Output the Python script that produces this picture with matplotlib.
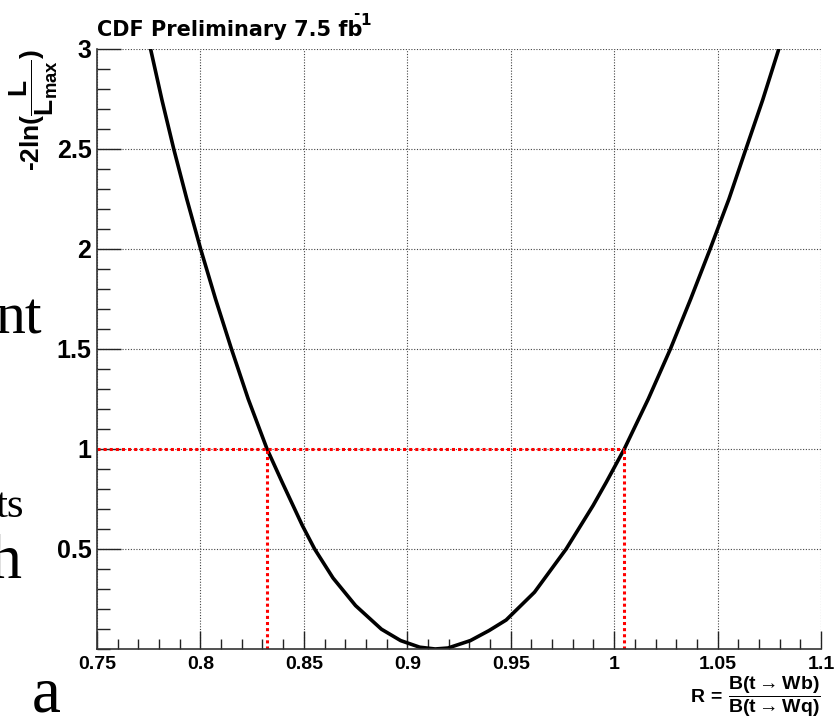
import numpy as np
import matplotlib
matplotlib.use("Agg")
import matplotlib.pyplot as plt

plt.rcParams['mathtext.fontset'] = 'custom'
plt.rcParams['mathtext.rm'] = 'Liberation Sans:bold'
plt.rcParams['mathtext.bf'] = 'Liberation Sans:bold'
plt.rcParams['mathtext.it'] = 'Liberation Sans:bold'

# likelihood scan
R_scan = [0.7759, 0.7814, 0.7871, 0.7934, 0.8001, 0.8073, 0.8150, 0.8231, 0.8322,
          0.8395, 0.8493, 0.8552, 0.8641, 0.8750, 0.8875, 0.8968, 0.9060, 0.9135,
          0.9197, 0.9305, 0.9395, 0.9478, 0.9615, 0.9768, 0.9898, 0.9962, 1.0049,
          1.0165, 1.0272, 1.0370, 1.0464, 1.0555, 1.0637, 1.0718, 1.0796]
nll_scan = [3.0, 2.745, 2.5, 2.25, 2.0, 1.75, 1.5, 1.25, 1.0,
            0.834, 0.617, 0.5, 0.355, 0.217, 0.099, 0.042, 0.009, 0.0,
            0.005, 0.042, 0.092, 0.145, 0.284, 0.5, 0.717, 0.834, 1.0,
            1.25, 1.5, 1.75, 2.0, 2.25, 2.5, 2.745, 3.0]

# one sigma interval
R_low = 0.8322
R_high = 1.0049
nll_level = 1.0

x_ticks = [0.75, 0.8, 0.85, 0.9, 0.95, 1.0, 1.05, 1.1]
x_ticklabels = ['0.75', '0.8', '0.85', '0.9', '0.95', '1', '1.05', '1.1']
y_ticks = [0.5, 1.0, 1.5, 2.0, 2.5, 3.0]
y_ticklabels = ['0.5', '1', '1.5', '2', '2.5', '3']

W, H = 837, 719
fig = plt.figure(figsize=(W / 100, H / 100), dpi=100)
ax = fig.add_axes([97 / W, (H - 649) / H, (821 - 97) / W, 600 / H])

ax.set_xlim(0.75, 1.1)
ax.set_ylim(0, 3)

ax.grid(True, which='major', linestyle=(0, (1, 1.5)), color='#444444', linewidth=0.8)
ax.set_axisbelow(True)

ax.plot(R_scan, nll_scan, color='black', linewidth=2.6, solid_joinstyle='round',
        solid_capstyle='round', zorder=3)

red = dict(color='#ff0000', linewidth=2.2, linestyle=(0, (1.0, 1.0)), zorder=4)
ax.plot([0.75, R_high], [nll_level, nll_level], **red)
ax.plot([R_low, R_low], [0, nll_level], **red)
ax.plot([R_high, R_high], [0, nll_level], **red)

for s in ['top', 'right']:
    ax.spines[s].set_visible(False)
for s in ['left', 'bottom']:
    ax.spines[s].set_linewidth(1.2)
    ax.spines[s].set_color('#333333')
    ax.spines[s].set_zorder(5)

ax.set_xticks(x_ticks)
ax.set_xticklabels(x_ticklabels)
ax.set_yticks(y_ticks)
ax.set_yticklabels(y_ticklabels)
ax.set_xticks(np.arange(0.75, 1.1001, 0.01), minor=True)
ax.set_yticks(np.arange(0, 3.0001, 0.1), minor=True)

ax.tick_params(axis='both', which='both', direction='in', color='#222222', width=1.0)
ax.tick_params(axis='y', which='major', length=17, pad=4)
ax.tick_params(axis='y', which='minor', length=9)
ax.tick_params(axis='x', which='major', length=13, pad=5)
ax.tick_params(axis='x', which='minor', length=7)
for lab in ax.get_yticklabels():
    lab.set_fontfamily('Liberation Sans')
    lab.set_fontweight('bold')
    lab.set_fontsize(18)
for lab in ax.get_xticklabels():
    lab.set_fontfamily('Liberation Sans')
    lab.set_fontweight('bold')
    lab.set_fontsize(14)

# title with a raised "-1"
title = fig.text(97 / W, 1 - 36 / H, 'CDF Preliminary 7.5 fb',
                 fontfamily='DejaVu Sans', fontweight='bold', fontsize=15, ha='left', va='baseline')
fig.canvas.draw()
end_px = title.get_window_extent().x1
fig.text((end_px - 2) / W, 1 - 25 / H, '1', fontfamily='DejaVu Sans', fontweight='bold',
         fontsize=11, ha='left', va='baseline')
fig.text((end_px - 9) / W, 1 - 18 / H, '-', fontfamily='DejaVu Sans', fontweight='bold',
         fontsize=11, ha='left', va='baseline')

fig.text(34 / W, 1 - 110 / H, '$\\mathbf{\u20102ln(\\dfrac{L}{L_{max}})}$', rotation=90,
         fontsize=19, ha='center', va='center')

fig.text(821 / W, 1 - 697 / H, r'$\mathbf{R\,=\,\dfrac{B(t \rightarrow Wb)}{B(t \rightarrow Wq)}}$',
         fontsize=14, ha='right', va='center')

# leftover slide text behind the plot
serif = dict(fontfamily='Liberation Serif', va='baseline', ha='right', color='black')
fig.text(42 / W, 1 - 333 / H, 'nt', fontsize=43, **serif)
fig.text(24 / W, 1 - 517 / H, 'ts', fontsize=31, **serif)
fig.text(21 / W, 1 - 578 / H, 'h', fontsize=46, **serif)
fig.text(61 / W, 1 - 712 / H, 'a', fontsize=47, **serif)

fig.savefig('out.png', dpi=100)
